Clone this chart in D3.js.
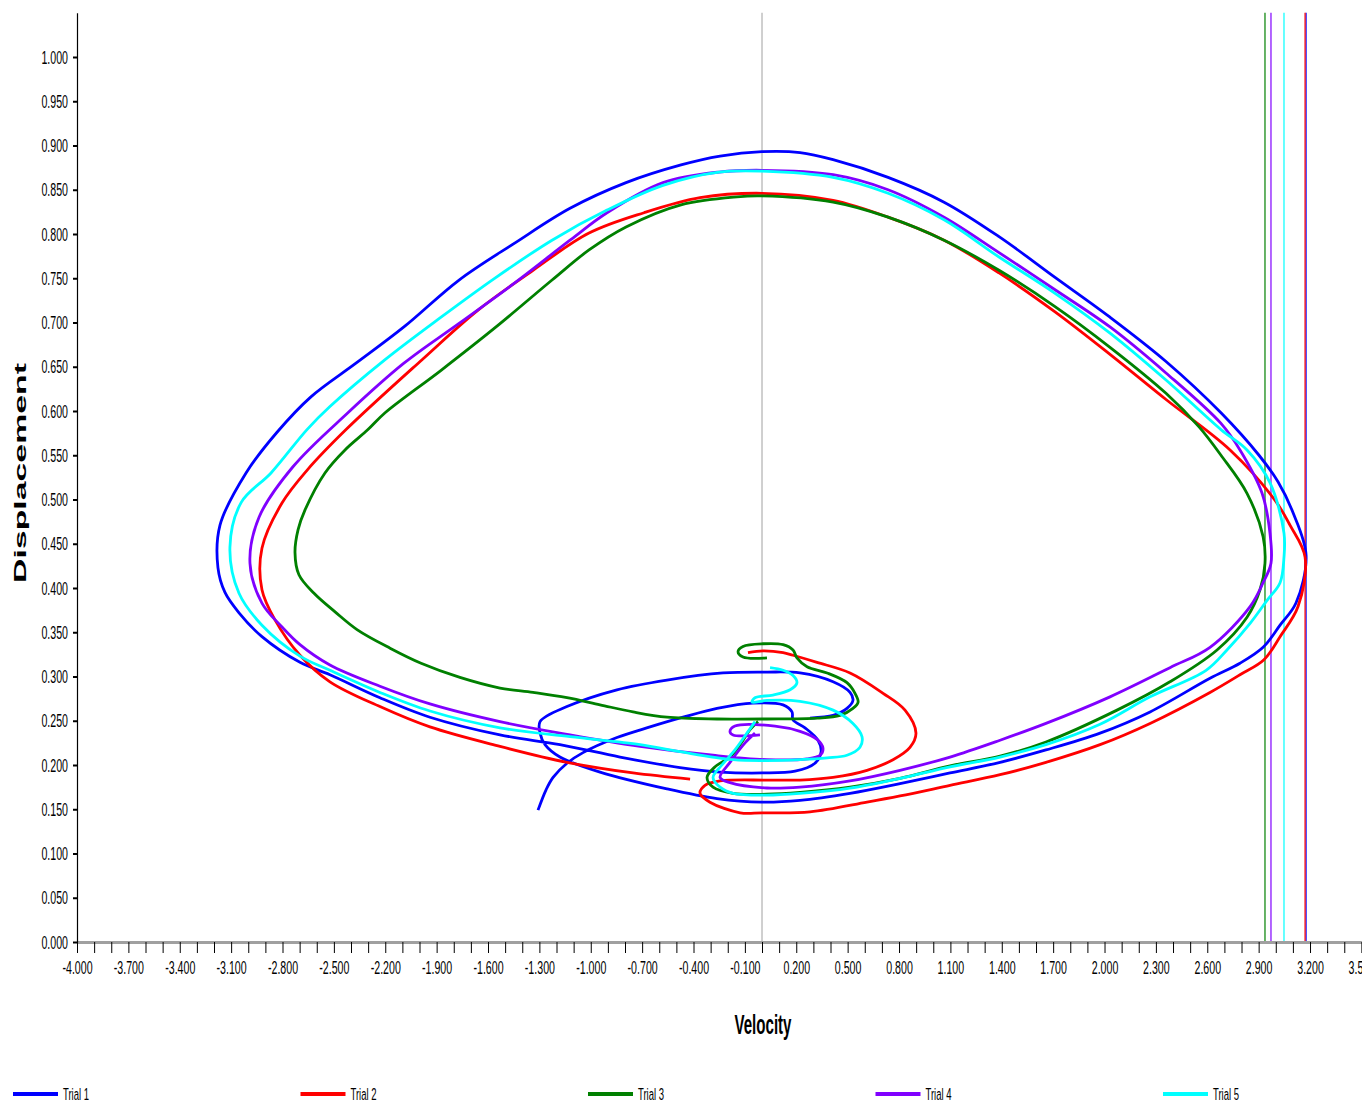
<!DOCTYPE html>
<html>
<head>
<meta charset="utf-8">
<script src="https://cdn.jsdelivr.net/npm/d3@7"></script>
<style>
body { margin: 0; background: #fff; }
svg { display: block; }
text { font-family: "Liberation Sans Narrow", "Arial Narrow", "Liberation Sans", Arial, sans-serif; fill: #000; }
</style>
</head>
<body>
<svg id="chart" width="1362" height="1107"></svg>
<script>
var seriesNames = ['Trial 1', 'Trial 2', 'Trial 3', 'Trial 4', 'Trial 5'];
var seriesColors = ['#0000ff', '#ff0000', '#008000', '#8000ff', '#00ffff'];

// each point is [velocity, displacement]
var trial1 = [
	[-1.308,0.149],[-1.261,0.172],[-1.220,0.186],[-1.139,0.202],[-1.045,0.214],[-0.847,0.231],[-0.654,0.243],[-0.461,0.254],
	[-0.263,0.264],[-0.053,0.270],[0.123,0.268],[0.175,0.260],[0.181,0.251],[0.251,0.242],[0.327,0.228],[0.345,0.215],
	[0.309,0.202],[0.193,0.193],[0.000,0.191],[-0.245,0.192],[-0.479,0.197],[-0.829,0.209],[-1.180,0.223],[-1.530,0.234],
	[-1.939,0.254],[-2.231,0.276],[-2.523,0.302],[-2.698,0.316],[-2.920,0.345],[-3.054,0.372],[-3.136,0.395],[-3.177,0.423],
	[-3.165,0.471],[-3.013,0.530],[-2.832,0.576],[-2.634,0.616],[-2.371,0.654],[-2.091,0.695],[-1.769,0.748],[-1.442,0.790],
	[-1.121,0.829],[-0.794,0.858],[-0.473,0.878],[-0.245,0.888],[0.000,0.893],[0.222,0.892],[0.415,0.884],[0.736,0.864],
	[1.063,0.836],[1.384,0.797],[1.711,0.751],[2.032,0.706],[2.359,0.656],[2.680,0.598],[2.902,0.550],[3.013,0.520],
	[3.101,0.485],[3.177,0.437],[3.118,0.383],[3.025,0.358],[2.926,0.333],[2.791,0.315],[2.616,0.298],[2.266,0.260],
	[1.974,0.236],[1.658,0.217],[1.390,0.203],[1.098,0.191],[0.806,0.179],[0.514,0.168],[0.222,0.160],[0.000,0.158],
	[-0.263,0.162],[-0.555,0.173],[-0.946,0.192],[-1.180,0.209],[-1.267,0.223],[-1.296,0.236],[-1.296,0.249],[-1.139,0.266],
	[-0.847,0.285],[-0.555,0.296],[-0.228,0.304],[0.029,0.305],[0.222,0.304],[0.415,0.294],[0.514,0.282],[0.531,0.273],
	[0.496,0.264],[0.415,0.256],[0.280,0.253]
];
var trial2 = [
	[-0.082,0.327],[0.006,0.329],[0.123,0.327],[0.181,0.324],[0.321,0.316],[0.514,0.304],[0.707,0.281],[0.835,0.262],
	[0.899,0.236],[0.864,0.220],[0.765,0.206],[0.613,0.194],[0.415,0.186],[0.222,0.183],[0.029,0.183],[-0.245,0.182],
	[-0.333,0.177],[-0.362,0.168],[-0.304,0.158],[-0.128,0.146],[0.000,0.146],[0.280,0.147],[0.613,0.158],[0.806,0.165],
	[1.098,0.177],[1.390,0.189],[1.658,0.203],[1.974,0.223],[2.266,0.247],[2.616,0.282],[2.791,0.302],[2.931,0.319],
	[3.025,0.345],[3.130,0.379],[3.171,0.435],[3.083,0.471],[2.996,0.499],[2.733,0.556],[2.359,0.613],[2.032,0.664],
	[1.711,0.712],[1.384,0.756],[1.063,0.793],[0.736,0.819],[0.415,0.838],[0.000,0.846],[-0.362,0.841],[-0.689,0.824],
	[-1.010,0.801],[-1.337,0.759],[-1.658,0.714],[-1.985,0.658],[-2.429,0.579],[-2.657,0.533],[-2.803,0.496],[-2.920,0.445],
	[-2.920,0.398],[-2.844,0.364],[-2.698,0.324],[-2.523,0.294],[-2.231,0.266],[-1.939,0.243],[-1.530,0.221],[-1.139,0.203],
	[-0.753,0.191],[-0.420,0.184]
];
var trial3 = [
	[0.029,0.321],[-0.111,0.322],[-0.140,0.328],[-0.111,0.334],[0.006,0.337],[0.123,0.336],[0.181,0.330],[0.204,0.321],
	[0.263,0.311],[0.380,0.304],[0.496,0.293],[0.543,0.281],[0.561,0.271],[0.531,0.264],[0.455,0.256],[0.321,0.253],
	[0.029,0.252],[-0.263,0.252],[-0.555,0.254],[-0.753,0.260],[-0.946,0.268],[-1.139,0.276],[-1.337,0.282],[-1.530,0.287],
	[-1.764,0.299],[-1.991,0.315],[-2.172,0.332],[-2.365,0.353],[-2.493,0.373],[-2.616,0.394],[-2.704,0.415],[-2.727,0.440],
	[-2.709,0.466],[-2.669,0.488],[-2.552,0.530],[-2.435,0.556],[-2.301,0.579],[-2.201,0.598],[-1.874,0.646],[-1.553,0.695],
	[-1.226,0.748],[-1.010,0.782],[-0.794,0.808],[-0.473,0.833],[-0.146,0.842],[0.000,0.843],[0.415,0.836],[0.736,0.819],
	[1.063,0.793],[1.384,0.759],[1.711,0.718],[2.032,0.672],[2.359,0.620],[2.552,0.582],[2.680,0.550],[2.832,0.507],
	[2.926,0.458],[2.937,0.428],[2.908,0.398],[2.832,0.367],[2.657,0.330],[2.382,0.294],[2.073,0.262],[1.658,0.226],
	[1.390,0.210],[1.098,0.199],[0.806,0.185],[0.514,0.175],[0.222,0.169],[0.029,0.167],[-0.169,0.168],[-0.286,0.175],
	[-0.321,0.186],[-0.274,0.198],[-0.187,0.209],[-0.117,0.226],[-0.070,0.240],[-0.023,0.249]
];
var trial4 = [
	[-0.012,0.234],[-0.169,0.234],[-0.187,0.238],[-0.158,0.244],[0.076,0.244],[0.222,0.238],[0.321,0.229],[0.356,0.219],
	[0.339,0.211],[0.263,0.207],[0.029,0.206],[-0.286,0.211],[-0.712,0.221],[-1.121,0.234],[-1.530,0.249],[-1.939,0.269],
	[-2.231,0.289],[-2.523,0.313],[-2.698,0.336],[-2.803,0.356],[-2.920,0.383],[-2.990,0.428],[-2.937,0.480],[-2.739,0.537],
	[-2.418,0.598],[-2.091,0.654],[-1.769,0.699],[-1.442,0.745],[-1.121,0.793],[-0.905,0.824],[-0.578,0.858],[-0.251,0.870],
	[0.000,0.872],[0.415,0.867],[0.736,0.850],[1.063,0.819],[1.384,0.779],[1.711,0.737],[2.032,0.695],[2.359,0.643],
	[2.680,0.586],[2.791,0.556],[2.920,0.507],[2.966,0.462],[2.972,0.428],[2.926,0.406],[2.850,0.379],[2.616,0.333],
	[2.382,0.310],[2.032,0.277],[1.658,0.247],[1.390,0.228],[1.098,0.209],[0.806,0.194],[0.514,0.182],[0.222,0.175],
	[0.029,0.174],[-0.187,0.180],[-0.245,0.186],[-0.187,0.203],[-0.099,0.225],[-0.041,0.236]
];
var trial5 = [
	[0.047,0.310],[0.123,0.307],[0.181,0.301],[0.204,0.293],[0.164,0.285],[0.064,0.279],[-0.041,0.276],[-0.058,0.271],
	[0.029,0.273],[0.222,0.272],[0.415,0.262],[0.531,0.247],[0.584,0.232],[0.572,0.220],[0.496,0.211],[0.380,0.208],
	[0.222,0.206],[0.029,0.205],[-0.169,0.206],[-0.479,0.215],[-0.712,0.223],[-1.121,0.232],[-1.530,0.242],[-1.939,0.261],
	[-2.231,0.282],[-2.523,0.307],[-2.698,0.323],[-2.920,0.358],[-3.054,0.394],[-3.107,0.446],[-3.040,0.497],[-2.867,0.530],
	[-2.657,0.579],[-2.523,0.605],[-2.201,0.658],[-1.874,0.706],[-1.553,0.751],[-1.226,0.793],[-0.905,0.827],[-0.578,0.855],
	[-0.251,0.870],[0.000,0.871],[0.415,0.864],[0.736,0.846],[1.063,0.816],[1.384,0.774],[1.711,0.733],[2.032,0.688],
	[2.359,0.635],[2.680,0.579],[2.832,0.556],[2.966,0.519],[3.048,0.462],[3.048,0.435],[3.025,0.406],[2.949,0.386],
	[2.850,0.360],[2.715,0.330],[2.593,0.307],[2.266,0.277],[1.974,0.246],[1.658,0.223],[1.390,0.209],[1.098,0.198],
	[0.806,0.185],[0.514,0.174],[0.222,0.168],[0.029,0.166],[-0.169,0.168],[-0.245,0.175],[-0.286,0.186],[-0.234,0.200],
	[-0.158,0.217],[-0.088,0.236],[-0.041,0.249]
];
var trials = [trial1, trial2, trial3, trial4, trial5];

var xDomain = [-4, 3.5];
var yDomain = [0, 1.05];
var xTickValues = d3.range(-40, 36).map(i => i / 10);
var yTickValues = d3.range(0, 21).map(i => i * 0.05);

var svg = d3.select('#chart');
var plotLeft = 77, plotRight = 1361.4, plotTop = 12.75, plotBottom = 942;

var x = d3.scaleLinear().domain(xDomain).range([plotLeft, plotRight]);
var y = d3.scaleLinear().domain(yDomain).range([plotBottom, plotTop]);

var fmt = v => (Math.round(v * 1000) / 1000).toFixed(3);

// measure text so the squeezed look of the original can be matched
var textWidth = function(str, size, weight) {
	var t = svg.append('text').attr('font-size', size).attr('font-weight', weight || 'normal').text(str);
	var w = t.node().getComputedTextLength();
	t.remove();
	return w;
};
var squeeze = 26.6 / textWidth('1.000', 19);

// zero velocity line
svg.append('line')
	.attr('x1', x(0)).attr('x2', x(0))
	.attr('y1', y(yDomain[1])).attr('y2', y(0))
	.attr('stroke', '#c0c0c0')
	.attr('stroke-width', 1.5);

// max velocity line per trial
var maxLines = trials.map((t, i) => ({v: d3.max(t, d => d[0]), color: seriesColors[i]}));
svg.append('g').selectAll('line')
	.data(maxLines)
	.enter()
	.append('line')
	.attr('x1', d => x(d.v)).attr('x2', d => x(d.v))
	.attr('y1', y(yDomain[1])).attr('y2', y(0))
	.attr('stroke', d => d.color)
	.attr('stroke-width', 1.2);

// trial paths
var line = d3.line()
	.x(d => x(d[0]))
	.y(d => y(d[1]))
	.curve(d3.curveCatmullRom.alpha(0.5));
svg.append('g').selectAll('path')
	.data(trials)
	.enter()
	.append('path')
	.attr('d', line)
	.attr('fill', 'none')
	.attr('stroke', (d, i) => seriesColors[i])
	.attr('stroke-width', 2.8)
	.attr('stroke-linejoin', 'round');

// x axis
var xAxis = d3.axisBottom(x)
	.tickValues(xTickValues)
	.tickSize(11)
	.tickSizeOuter(0)
	.tickPadding(8)
	.tickFormat(function(d) {
		var k = Math.round(d * 10) + 40;
		return k % 3 === 0 ? fmt(d) : '';
	});
var gx = svg.append('g').attr('transform', 'translate(0,' + plotBottom + ')').call(xAxis);
gx.attr('font-family', null);
gx.select('.domain').attr('stroke', '#a0a0a0').attr('stroke-width', 3);
gx.selectAll('.tick line').attr('stroke', '#000').attr('stroke-width', 1);
gx.selectAll('.tick text')
	.attr('font-size', 19)
	.attr('transform', 'scale(' + squeeze + ',1)');

// y axis
var yAxis = d3.axisLeft(y)
	.tickValues(yTickValues)
	.tickSize(4)
	.tickSizeOuter(0)
	.tickPadding(5)
	.tickFormat(fmt);
var gy = svg.append('g').attr('transform', 'translate(' + plotLeft + ',0)').call(yAxis);
gy.attr('font-family', null);
gy.select('.domain').attr('stroke', '#000').attr('stroke-width', 1.2);
gy.selectAll('.tick line').attr('stroke', '#000').attr('stroke-width', 2);
gy.selectAll('.tick text')
	.attr('font-size', 19)
	.attr('transform', 'translate(-9,0) scale(' + squeeze + ',1)')
	.attr('x', 0);

// axis titles
var velW = textWidth('Velocity', 28, 'bold');
svg.append('text')
	.attr('text-anchor', 'middle')
	.attr('font-size', 28)
	.attr('font-weight', 'bold')
	.attr('transform', 'translate(763,1034) scale(' + (57 / velW) + ',1)')
	.text('Velocity');

svg.append('text')
	.attr('text-anchor', 'middle')
	.attr('font-size', 22)
	.attr('font-weight', 'bold')
	.style('font-family', '"Liberation Sans", Arial, sans-serif')
	.attr('textLength', 220)
	.attr('lengthAdjust', 'spacingAndGlyphs')
	.attr('transform', 'translate(26,473) scale(0.72,1) rotate(-90)')
	.text('Displacement');

// legend
var legend = svg.append('g').selectAll('g')
	.data(seriesNames)
	.enter()
	.append('g')
	.attr('transform', (d, i) => 'translate(' + (13 + i * 287.5) + ',1094)');
legend.append('line')
	.attr('x1', 0).attr('x2', 45)
	.attr('stroke', (d, i) => seriesColors[i])
	.attr('stroke-width', 4);
legend.append('text')
	.attr('font-size', 17)
	.attr('transform', 'translate(50,6) scale(' + squeeze + ',1)')
	.text(d => d);
</script>
</body>
</html>
